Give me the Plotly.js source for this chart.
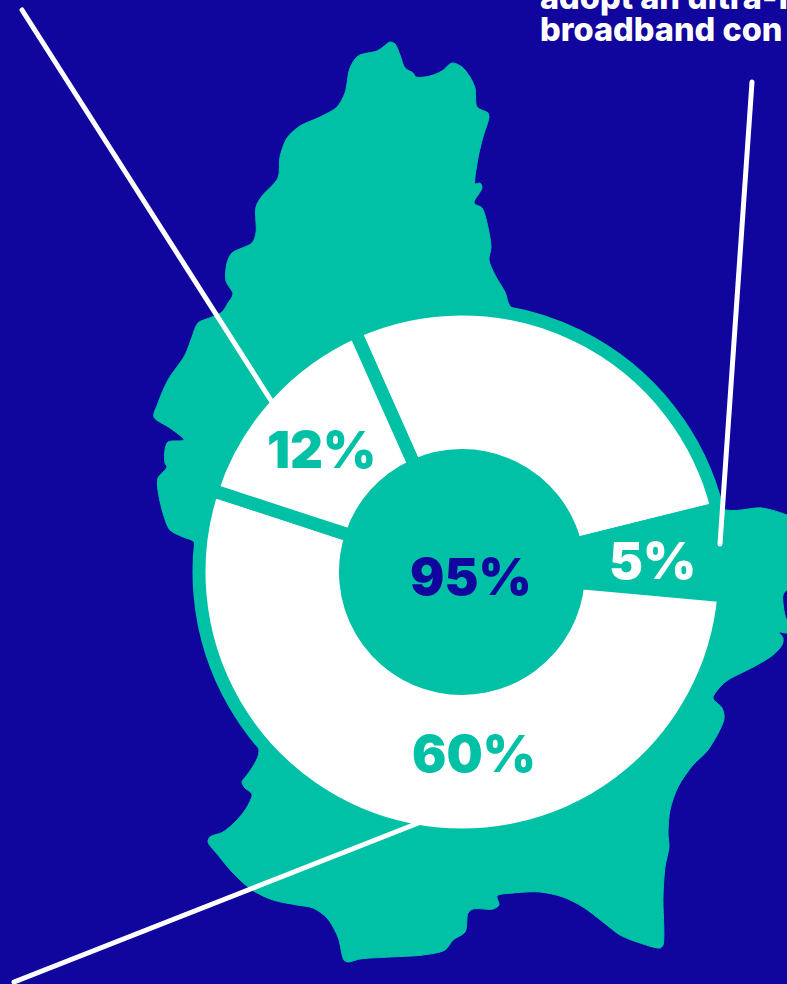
<!DOCTYPE html>
<html><head><meta charset="utf-8">
<script src="https://cdn.plot.ly/plotly-3.0.1.min.js"></script>
<style>
html,body{margin:0;padding:0;background:#10059c;overflow:hidden}
#c{width:787px;height:984px}
.shapelayer path{stroke-linecap:round}
</style></head><body><div id="c"></div>
<script>
const BLUE='#10059c', TEAL='#00c1a6', WHITE='#ffffff';
// Country outline
const mapX=[390,395,400,405,413,416,430,442,452,462,470,475,477,488,489,483,479,475,475,480,482,474,482,487,491,489,495,505,511,600,720,762,787,797,797,787,783,783,787,797,787,779,783,782,773,757,728,722,713,722,724,708,693,678,670,668,669,665,663,663,660,640,620,603,583,563,540,513,497,499,493,473,468,465,453,445,423,390,360,348,344,338,327,313,297,273,252,233,218,208,210,223,237,247,252,245,242,247,255,259,230,194,183,170,163,158,158,167,165,165,168,184,170,154,158,168,185,192,198,212,222,228,233,226,227,232,252,256,256,262,278,280,287,300,320,337,345,350,358,377,383,390];
const mapY=[42,44,55,68,73,77,76,71,63,67,77,88,107,113,117,137,153,177,184,183,188,203,208,223,247,260,275,292,307,350,508,508,515,520,590,590,595,603,620,625,633,632,638,645,655,665,680,685,698,708,719,750,765,787,810,833,847,867,897,945,948,943,935,922,907,897,892,893,896,905,909,909,913,932,940,950,955,957,959,962,960,937,918,908,905,900,890,873,855,842,837,832,820,807,794,788,782,775,763,751,650,542,537,530,513,490,478,467,463,450,442,440,428,417,403,380,355,337,323,317,312,303,294,281,263,253,243,233,207,196,178,157,138,126,117,107,93,68,56,51,47,42];
// Donut: printed labels, and the slice shares as actually drawn
const sliceNames=['remainder','5%','60%','12%'];
const sliceShares=[27.8,5.3,53.6,13.3];
const sliceColors=[WHITE,TEAL,WHITE,WHITE];
const labelText=['95%','12%','5%','60%'];
const labelX=[471,321.5,652,473.5];
const labelY=[576,449,560,753];
const labelColor=[BLUE,TEAL,WHITE,TEAL];
const headerLines=['adopt an ultra-f','broadband con'];
// Leader lines [x0,y0,x1,y1]
const leaders=[[22,10,272,402],[752,82,720,544],[14,982,421,822]];

const W=787,H=984,CX=462,CY=572,R=263,HOLE=116.5,DISC=268;
const font=(size,color)=>({family:'Inter, "Open Sans", sans-serif',size,color,weight:900});

const traces=[
 {type:'scatter',mode:'lines',x:mapX,y:mapY,fill:'toself',fillcolor:TEAL,
  line:{color:TEAL,width:1,shape:'spline',smoothing:0.85},hoverinfo:'skip',showlegend:false},
 {type:'pie',labels:sliceNames,values:sliceShares,sort:false,direction:'clockwise',rotation:336,
  hole:HOLE/R,textinfo:'none',hoverinfo:'none',showlegend:false,
  marker:{colors:sliceColors,line:{color:TEAL,width:13}},
  domain:{x:[(CX-R)/W,(CX+R)/W],y:[1-(CY+R)/H,1-(CY-R)/H]}}
];
const annotations=labelText.map((t,i)=>({text:t,x:labelX[i],y:labelY[i],xref:'x',yref:'y',showarrow:false,
  xanchor:'center',yanchor:'middle',font:font(51,labelColor[i])}));
headerLines.forEach((t,i)=>annotations.push({text:t,x:538,y:[0,29][i],yshift:[3,0][i],xref:'x',yref:'y',showarrow:false,
  xanchor:'left',yanchor:'middle',font:Object.assign(font(32.5,WHITE),{weight:800})}));
const shapes=[{type:'circle',xref:'x',yref:'y',x0:CX-DISC,x1:CX+DISC,y0:CY-DISC,y1:CY+DISC,
  fillcolor:TEAL,line:{width:0},layer:'below'}].concat(leaders.map(l=>({type:'line',xref:'x',yref:'y',
  x0:l[0],y0:l[1],x1:l[2],y1:l[3],line:{color:WHITE,width:5},layer:'above'})));
Plotly.newPlot('c',traces,{
 width:W,height:H,margin:{l:0,r:0,t:0,b:0,pad:0},paper_bgcolor:BLUE,plot_bgcolor:BLUE,showlegend:false,
 xaxis:{range:[0,W],visible:false,fixedrange:true},
 yaxis:{range:[H,0],visible:false,fixedrange:true},
 annotations,shapes
},{displayModeBar:false,staticPlot:true});
</script></body></html>
